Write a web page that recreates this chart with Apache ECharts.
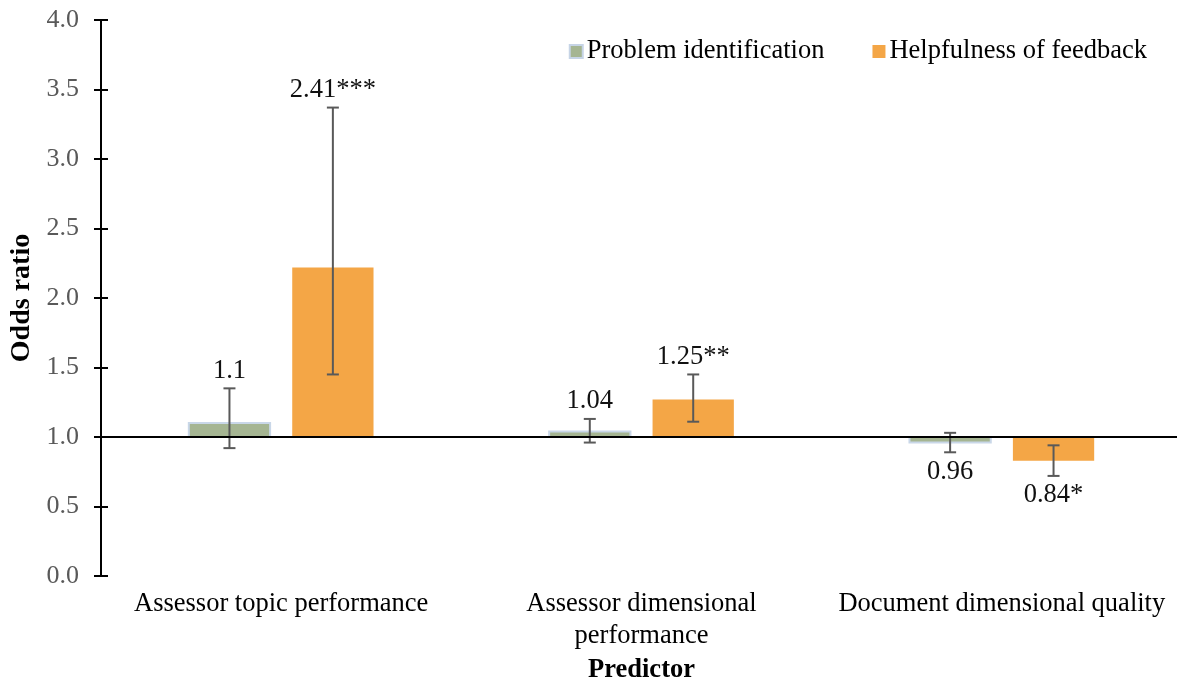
<!DOCTYPE html>
<html>
<head>
<meta charset="utf-8">
<script src="https://cdn.jsdelivr.net/npm/echarts@6/dist/echarts.min.js"></script>
<style>
html,body{margin:0;padding:0;background:#fff;overflow:hidden;}
#chart{width:1177px;height:682px;}
</style>
</head>
<body>
<div id="chart"></div>
<script>
var categories = ['Assessor topic performance', 'Assessor dimensional\nperformance', 'Document dimensional quality'];
var yTicks = [0, 0.5, 1.0, 1.5, 2.0, 2.5, 3.0, 3.5, 4.0];

var piName = 'Problem identification';
var piValues = [1.10, 1.04, 0.96];
var piLow = [0.92, 0.96, 0.89];
var piHigh = [1.35, 1.13, 1.03];
var piLabels = ['1.1', '1.04', '0.96'];

var hfName = 'Helpfulness of feedback';
var hfValues = [2.22, 1.27, 0.83];
var hfLow = [1.45, 1.11, 0.72];
var hfHigh = [3.37, 1.45, 0.94];
var hfLabels = ['2.41***', '1.25**', '0.84*'];

var baseline = 1.0;
var FONT = '"Liberation Serif", "Times New Roman", serif';

function buildData(vals, lows, highs) {
  return vals.map(function (v, i) { return [i, v, lows[i], highs[i]]; });
}

function makeRender(labels, offsetFrac, fill, border) {
  return function (params, api) {
    var i = api.value(0);
    var v = api.value(1), lo = api.value(2), hi = api.value(3);
    var band = api.size([1, 0])[0];
    var c = api.coord([i, baseline]);
    var x = c[0] + offsetFrac * band;
    var w = 0.2256 * band;
    var yb = c[1];
    var yv = api.coord([i, v])[1];
    var yl = api.coord([i, lo])[1];
    var yh = api.coord([i, hi])[1];
    var cap = 6;
    var above = v >= baseline;
    var children = [
      {
        type: 'rect',
        shape: { x: x - w / 2, y: Math.min(yb, yv), width: w, height: Math.abs(yb - yv) },
        style: { fill: fill, stroke: border, lineWidth: border ? 2 : 0 }
      },
      { type: 'line', shape: { x1: x, y1: yl, x2: x, y2: yh }, style: { stroke: '#595959', lineWidth: 2 }, z2: 5 },
      { type: 'line', shape: { x1: x - cap, y1: yh, x2: x + cap, y2: yh }, style: { stroke: '#595959', lineWidth: 2 }, z2: 5 },
      { type: 'line', shape: { x1: x - cap, y1: yl, x2: x + cap, y2: yl }, style: { stroke: '#595959', lineWidth: 2 }, z2: 5 },
      {
        type: 'text',
        style: {
          text: labels[params.dataIndex],
          x: x,
          y: above ? yh - 4 : yl + 6,
          align: 'center',
          verticalAlign: above ? 'bottom' : 'top',
          fontSize: 26.5,
          fontFamily: FONT,
          fill: '#111'
        },
        z2: 6
      }
    ];
    return { type: 'group', children: children };
  };
}

var chart = echarts.init(document.getElementById('chart'));
chart.setOption({
  animation: false,
  backgroundColor: '#fff',
  textStyle: { fontFamily: FONT },
  grid: { left: 101, right: -5, top: 20, bottom: 106, containLabel: false, outerBoundsMode: 'none' },
  legend: {
    data: [piName, hfName],
    right: 25,
    top: 33,
    itemWidth: 13,
    itemHeight: 13,
    itemGap: 48,
    icon: 'rect',
    selectedMode: false,
    textStyle: { fontSize: 26.5, fontFamily: FONT, color: '#000', padding: [0, 0, 0, -1] }
  },
  xAxis: {
    type: 'category',
    data: categories,
    name: 'Predictor',
    nameLocation: 'middle',
    nameGap: 72,
    nameTextStyle: { fontSize: 26.5, fontWeight: 'bold', fontFamily: FONT, color: '#000' },
    axisLine: { show: false },
    axisTick: { show: false },
    axisLabel: { fontSize: 26.5, fontFamily: FONT, color: '#000', margin: 12, lineHeight: 32, interval: 0 }
  },
  yAxis: [
    {
      type: 'value',
      min: yTicks[0],
      max: yTicks[yTicks.length - 1],
      interval: yTicks[1] - yTicks[0],
      name: 'Odds ratio',
      nameLocation: 'middle',
      nameRotate: 90,
      nameGap: 64,
      nameTextStyle: { fontSize: 28, fontWeight: 'bold', fontFamily: FONT, color: '#000' },
      axisLine: { show: true, lineStyle: { color: '#000', width: 2 } },
      axisTick: { show: true, length: 7, lineStyle: { color: '#000', width: 2 } },
      axisLabel: { fontSize: 26, fontFamily: FONT, color: '#595959', margin: 22, formatter: function (v) { return v.toFixed(1); } },
      splitLine: { show: false }
    },
    {
      type: 'value',
      min: yTicks[0],
      max: yTicks[yTicks.length - 1],
      interval: yTicks[1] - yTicks[0],
      position: 'left',
      axisLine: { show: false },
      axisTick: { show: true, inside: true, length: 7, lineStyle: { color: '#000', width: 2 } },
      axisLabel: { show: false },
      splitLine: { show: false }
    }
  ],
  series: [
    {
      name: piName,
      type: 'custom',
      itemStyle: { color: '#a5b592', borderColor: '#c6d4e6', borderWidth: 1 },
      renderItem: makeRender(piLabels, -0.1435, '#a5b592', '#c9d7e8'),
      encode: { x: 0, y: [1, 2, 3] },
      data: buildData(piValues, piLow, piHigh),
      z: 2
    },
    {
      name: hfName,
      type: 'custom',
      itemStyle: { color: '#f4a646' },
      renderItem: makeRender(hfLabels, 0.1435, '#f4a646', null),
      encode: { x: 0, y: [1, 2, 3] },
      data: buildData(hfValues, hfLow, hfHigh),
      z: 2,
      markLine: {
        silent: true,
        symbol: 'none',
        z: 10,
        label: { show: false },
        lineStyle: { color: '#000', width: 2, type: 'solid' },
        data: [{ yAxis: baseline }]
      }
    }
  ]
});
</script>
</body>
</html>
